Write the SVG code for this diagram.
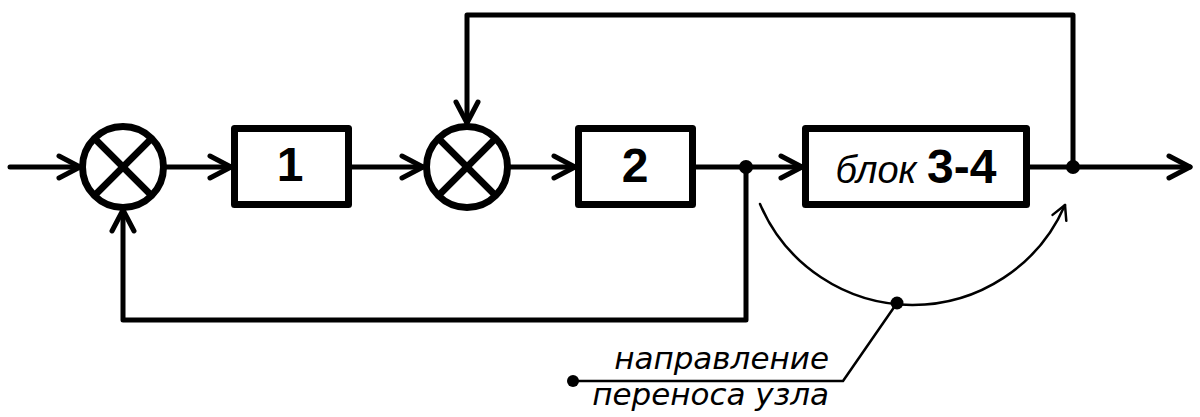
<svg xmlns="http://www.w3.org/2000/svg" width="1200" height="417" viewBox="0 0 1200 417">
<style>
.w{fill:none;stroke:#000;stroke-width:5;stroke-linecap:round;stroke-linejoin:round}
.box{fill:#fff;stroke:#000;stroke-width:7;stroke-linejoin:round}
.sum{fill:#fff;stroke:#000;stroke-width:7}
.x{stroke:#000;stroke-width:7}
.thin{fill:none;stroke:#000;stroke-width:2.5;stroke-linecap:round;stroke-linejoin:round}
.dot{fill:#000}
.num{font-family:"Liberation Sans",Arial,sans-serif;font-weight:bold;font-size:48px;text-anchor:middle}
.it{font-family:"Liberation Sans",Arial,sans-serif;font-style:italic;font-size:38px}
.lbl{font-family:"DejaVu Sans",Verdana,sans-serif;font-style:oblique;font-size:31px;text-anchor:end}
</style>
<defs>
<marker id="ah" markerUnits="userSpaceOnUse" viewBox="-25 -14 30 28" markerWidth="30" markerHeight="28" refX="0" refY="0" orient="auto">
<path d="M-21,-11 L0,0 L-21,11" fill="none" stroke="#000" stroke-width="5" stroke-linecap="round" stroke-linejoin="round"/>
</marker>
<marker id="ahs" markerUnits="userSpaceOnUse" viewBox="-18 -10 22 20" markerWidth="22" markerHeight="20" refX="0" refY="0" orient="auto">
<path d="M-14,-7.5 L0,0 L-14,7.5" fill="none" stroke="#000" stroke-width="2.5" stroke-linecap="round" stroke-linejoin="round"/>
</marker>
</defs>
<g id="connectors">
<path class="w" d="M10,167 L80,167" marker-end="url(#ah)"/>
<path class="w" d="M164,167 L231,167" marker-end="url(#ah)"/>
<path class="w" d="M352,167 L423,167" marker-end="url(#ah)"/>
<path class="w" d="M508,167 L575,167" marker-end="url(#ah)"/>
<path class="w" d="M696,167 L802,167" marker-end="url(#ah)"/>
<path class="w" d="M1030,167 L1190,167" marker-end="url(#ah)"/>
<path class="w" d="M1073,167 L1073,15 L467,15 L467,123" marker-end="url(#ah)"/>
<path class="w" d="M746,167 L746,320 L123,320 L123,210" marker-end="url(#ah)"/>
<path class="thin" d="M760,204 A166,166 0 0 0 1065,205" marker-end="url(#ahs)"/>
<path class="thin" d="M897,303 L843,381 L573,381"/>
<circle class="dot" cx="746" cy="167" r="7"/>
<circle class="dot" cx="1073" cy="167" r="7"/>
<circle class="dot" cx="897" cy="303" r="6.5"/>
<circle class="dot" cx="573" cy="381" r="6"/>
</g>
<g id="sum1">
<circle class="sum" cx="123" cy="167" r="40.5"/>
<line class="x" x1="94.4" y1="138.4" x2="151.6" y2="195.6"/>
<line class="x" x1="151.6" y1="138.4" x2="94.4" y2="195.6"/>
</g>
<g id="block1">
<rect class="box" x="234.5" y="128.5" width="114" height="76"/>
<text class="num" x="290" y="181">1</text>
</g>
<g id="sum2">
<circle class="sum" cx="467" cy="167" r="40.5"/>
<line class="x" x1="438.4" y1="138.4" x2="495.6" y2="195.6"/>
<line class="x" x1="495.6" y1="138.4" x2="438.4" y2="195.6"/>
</g>
<g id="block2">
<rect class="box" x="578.5" y="128.5" width="114" height="76"/>
<text class="num" x="635" y="182">2</text>
</g>
<g id="block34">
<rect class="box" x="805.5" y="128.5" width="221" height="76"/>
<text x="916" y="183" text-anchor="middle"><tspan class="it">блок </tspan><tspan class="num">3-4</tspan></text>
</g>
<g id="label">
<text class="lbl" x="829" y="369">направление</text>
<text class="lbl" x="829" y="405">переноса узла</text>
</g>
</svg>
